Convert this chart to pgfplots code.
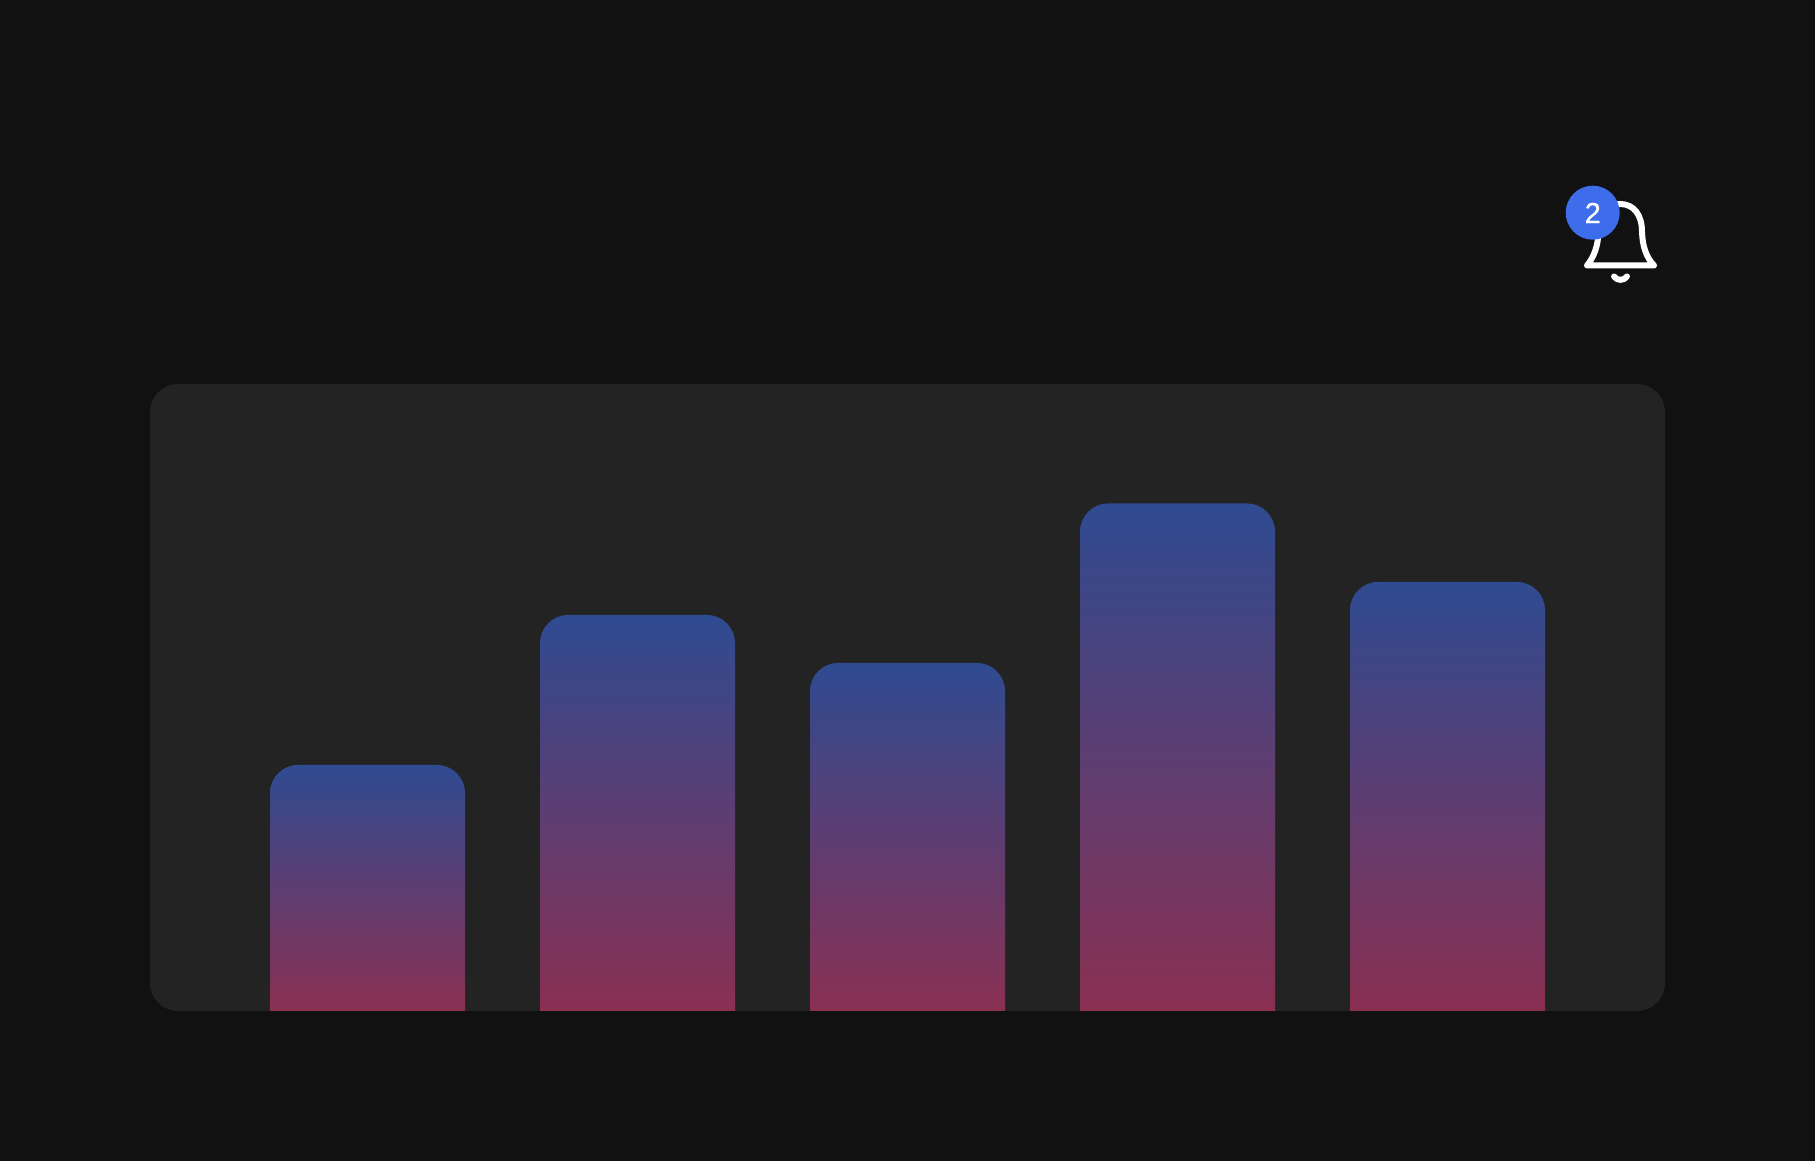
\documentclass[border=0pt]{standalone}
\usepackage{pgfplots}
\pgfplotsset{compat=1.18}
\usepackage{fontspec}
\setmainfont[FakeBold=0.6]{Liberation Sans}

\definecolor{pagebg}{RGB}{17,17,17}
\definecolor{panelbg}{RGB}{35,35,35}
\definecolor{bartop}{RGB}{47,75,145}
\definecolor{badge}{RGB}{61,109,235}
% bottom colours sit 40 units under the baseline, where the clip hides them
\definecolor{barbotA}{RGB}{153,44,72}
\definecolor{barbotB}{RGB}{147,45,76}
\definecolor{barbotC}{RGB}{148,45,75}
\definecolor{barbotD}{RGB}{145,46,77}
\definecolor{barbotE}{RGB}{146,45,76}

\begin{document}
% one tikz unit is one pixel of the reference, origin bottom left
\begin{tikzpicture}[x=0.5pt,y=0.5pt]
\fill[pagebg] (0,0) rectangle (1815,1161);
\fill[panelbg,rounded corners=14pt] (150,150) rectangle (1665,777);

\begin{axis}[
	at={(75pt,75pt)},
	anchor=south west,
	scale only axis,
	width=757.5pt,
	height=313.5pt,
	xmin=-0.8056, xmax=4.8056,
	ymin=0, ymax=627,
	hide axis,
	clip=true,
]
	\addplot[draw=none,shade,top color=bartop,bottom color=barbotA,rounded corners=14pt] coordinates {
		(-0.3611,-40) (-0.3611,246) (0.3611,246) (0.3611,-40)
	} --cycle;
	\addplot[draw=none,shade,top color=bartop,bottom color=barbotB,rounded corners=14pt] coordinates {
		(0.6389,-40) (0.6389,396) (1.3611,396) (1.3611,-40)
	} --cycle;
	\addplot[draw=none,shade,top color=bartop,bottom color=barbotC,rounded corners=14pt] coordinates {
		(1.6389,-40) (1.6389,348) (2.3611,348) (2.3611,-40)
	} --cycle;
	\addplot[draw=none,shade,top color=bartop,bottom color=barbotD,rounded corners=14pt] coordinates {
		(2.6389,-40) (2.6389,507.5) (3.3611,507.5) (3.3611,-40)
	} --cycle;
	\addplot[draw=none,shade,top color=bartop,bottom color=barbotE,rounded corners=14pt] coordinates {
		(3.6389,-40) (3.6389,429) (4.3611,429) (4.3611,-40)
	} --cycle;
\end{axis}

% bell
\begin{scope}[shift={(0,1161)},y=-0.5pt]
\draw[white,line width=3pt,line cap=round,line join=round]
	(1587,265.5) -- (1654,265.5)
	(1587,265.5) .. controls (1594,257) and (1598,246) .. (1598.5,232)
	(1654,265.5) .. controls (1646,257) and (1642.5,246) .. (1642,232)
	.. controls (1642,215) and (1634,204) .. (1620,204) .. controls (1606,204) and (1599,215) .. (1598.5,232)
	(1614,276.5) .. controls (1617,281) and (1624,281) .. (1627,276.5);
\fill[badge] (1592.7,212.7) circle[radius=27];
\node[white,font=\fontsize{14.5}{14.5}\selectfont] at (1592.7,213) {2};
\end{scope}
\end{tikzpicture}
\end{document}
